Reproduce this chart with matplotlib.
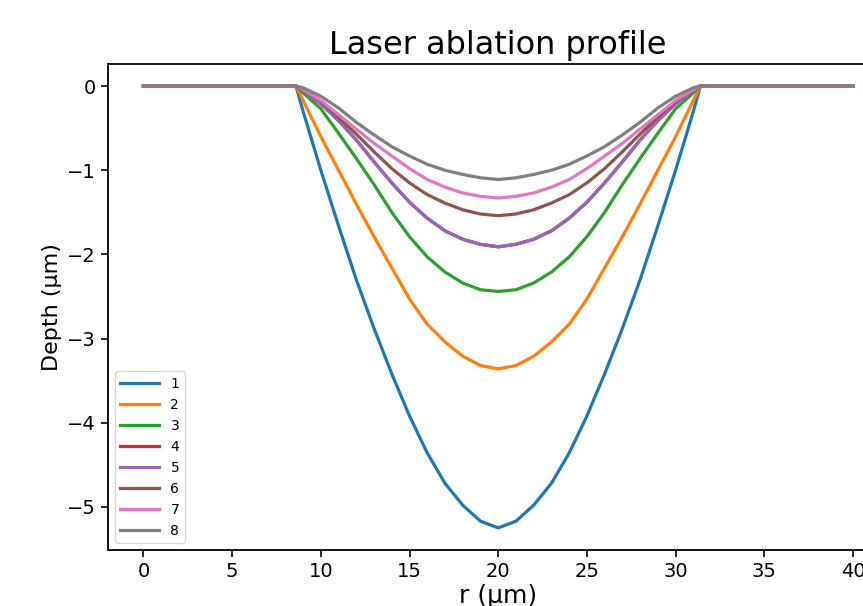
import matplotlib
matplotlib.use('Agg')
import matplotlib.pyplot as plt

# radial position (um)
r = [0, 8.6, 9, 10, 11, 12, 13, 14, 15, 16, 17, 18, 19, 20,
     21, 22, 23, 24, 25, 26, 27, 28, 29, 30, 31, 31.4, 40]

# depth profiles (um), one per pulse count
d1 = [0, 0, -0.30, -1.00, -1.66, -2.30, -2.88, -3.42, -3.92, -4.36, -4.72, -4.98, -5.17, -5.25,
      -5.17, -4.98, -4.72, -4.36, -3.92, -3.42, -2.88, -2.30, -1.66, -1.00, -0.30, 0, 0]
d2 = [0, 0, -0.17, -0.60, -1.00, -1.40, -1.79, -2.16, -2.53, -2.83, -3.04, -3.21, -3.32, -3.36,
      -3.32, -3.21, -3.04, -2.83, -2.53, -2.16, -1.79, -1.40, -1.00, -0.60, -0.17, 0, 0]
d3 = [0, 0, -0.08, -0.27, -0.56, -0.86, -1.17, -1.50, -1.79, -2.03, -2.21, -2.34, -2.42, -2.44,
      -2.42, -2.34, -2.21, -2.03, -1.79, -1.50, -1.17, -0.86, -0.56, -0.27, -0.08, 0, 0]
d4 = [0, 0, -0.05, -0.21, -0.41, -0.64, -0.90, -1.15, -1.38, -1.57, -1.72, -1.82, -1.88, -1.91,
      -1.88, -1.82, -1.72, -1.57, -1.38, -1.15, -0.90, -0.64, -0.41, -0.21, -0.05, 0, 0]
d5 = [0, 0, -0.05, -0.21, -0.41, -0.64, -0.90, -1.15, -1.38, -1.57, -1.72, -1.82, -1.88, -1.91,
      -1.88, -1.82, -1.72, -1.57, -1.38, -1.15, -0.90, -0.64, -0.41, -0.21, -0.05, 0, 0]
d6 = [0, 0, -0.04, -0.18, -0.37, -0.57, -0.78, -0.98, -1.15, -1.29, -1.39, -1.47, -1.52, -1.54,
      -1.52, -1.47, -1.39, -1.29, -1.15, -0.98, -0.78, -0.57, -0.37, -0.18, -0.04, 0, 0]
d7 = [0, 0, -0.04, -0.17, -0.34, -0.51, -0.68, -0.83, -0.98, -1.11, -1.20, -1.27, -1.31, -1.33,
      -1.31, -1.27, -1.20, -1.11, -0.98, -0.83, -0.68, -0.51, -0.34, -0.17, -0.04, 0, 0]
d8 = [0, 0, -0.02, -0.12, -0.26, -0.43, -0.58, -0.72, -0.83, -0.93, -1.00, -1.05, -1.09, -1.11,
      -1.09, -1.05, -1.00, -0.93, -0.83, -0.72, -0.58, -0.43, -0.26, -0.12, -0.02, 0, 0]

profiles = [d1, d2, d3, d4, d5, d6, d7, d8]
labels = ['1', '2', '3', '4', '5', '6', '7', '8']

fig = plt.figure(figsize=(8.63, 6.06), dpi=100)
ax = fig.add_axes([0.1251, 0.0924, 0.9044, 0.802])

for d, lab in zip(profiles, labels):
    ax.plot(r, d, lw=2.3, label=lab)

ax.set_title('Laser ablation profile', fontsize=23, pad=7)
ax.set_xlabel('r (μm)', fontsize=18, labelpad=2)
ax.set_ylabel('Depth (μm)', fontsize=16)
ax.tick_params(labelsize=14, length=5, width=1.2)
ax.set_xticks([0, 5, 10, 15, 20, 25, 30, 35, 40])
for s in ax.spines.values():
    s.set_linewidth(1.3)
ax.legend(loc='lower left', fontsize=10, handlelength=2.8)

fig.savefig('out.png', dpi=100)
